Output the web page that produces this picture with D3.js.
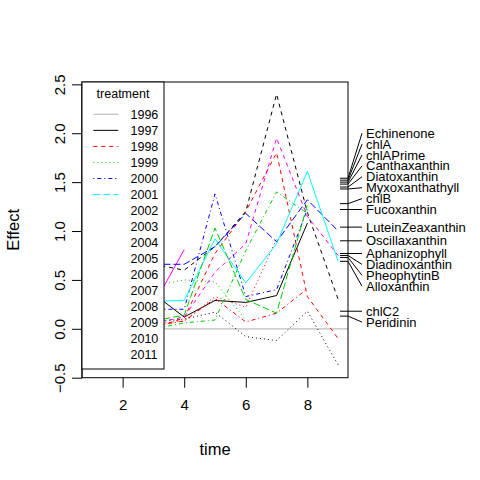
<!DOCTYPE html>
<html>
<head>
<meta charset="utf-8">
<script src="https://cdn.jsdelivr.net/npm/d3@7"></script>
<style>
  html, body { margin: 0; padding: 0; background: #fff; }
  svg { display: block; font-family: "Liberation Sans", Arial, Helvetica, sans-serif; }
</style>
</head>
<body>
<svg id="chart" width="480" height="480"></svg>
<script>
// ---- Data ----
const times = [1, 2, 3, 4, 5, 6, 7, 8, 9];
const treatments = ["1996","1997","1998","1999","2000","2001","2002","2003","2004","2005","2006","2007","2008","2009","2010","2011"];
// Effect per treatment (control 1996 is the zero line); null = not visible / absent
const y1997 = [null, null, 0.36, 0.12, 0.29, 0.27, 0.34, 1.08, null];
const y1998 = [null, null, 0.01, 0.11, 0.77, 1.20, 1.80, 0.33, -0.10];
const y1999 = [null, null, 0.44, 0.50, 0.48, 0.09, null, null, null];
const y2000 = [null, null, 0.20, 0.20, 1.38, 0.33, 0.40, 1.22, null];
const y2001 = [null, null, null, null, null, null, null, null, null];
const y2002 = [null, null, 0.24, 0.81, null, null, null, null, null];
const y2003 = [null, null, 0.66, 0.60, 0.84, 1.20, 2.40, 1.19, 0.30];
const y2004 = [null, null, 0.05, 0.08, 0.33, 0.22, 0.92, null, null];
const y2005 = [null, null, 0.00, 0.06, 0.09, 0.80, 1.40, 1.18, null];
const y2006 = [null, null, 0.66, 0.66, 0.84, 1.18, 0.89, 1.32, 1.00];
const y2007 = [null, null, 0.28, 0.29, 0.92, 0.47, 0.87, 1.61, 0.69];
const y2008 = [null, null, 0.06, 0.12, 0.58, 0.87, 1.95, 1.15, 0.75];
const y2009 = [null, null, 0.07, 0.10, 0.17, -0.08, -0.12, 0.18, -0.37];
const y2010 = [null, null, 0.03, 0.08, 0.31, 0.07, 0.16, 0.41, null];
const y2011 = [null, null, 0.08, 0.14, 1.03, 0.30, 0.16, 1.27, null];
const seriesValues = [y1997, y1998, y1999, y2000, y2001, y2002, y2003, y2004, y2005, y2006, y2007, y2008, y2009, y2010, y2011];

// Species scores (right-hand axis)
const speciesNames = ["Echinenone","chlA","chlAPrime","Canthaxanthin","Diatoxanthin","Myxoxanthathyll","chlB","Fucoxanthin","LuteinZeaxanthin","Oscillaxanthin","Aphanizophyll","Diadinoxanthin","PheophytinB","Alloxanthin","chlC2","Peridinin"];
const speciesScores = [1.54, 1.52, 1.50, 1.48, 1.45, 1.43, 1.28, 1.22, 1.04, 0.90, 0.77, 0.75, 0.73, 0.69, 0.18, 0.13];

const xTicks = [2, 4, 6, 8];
const yTicks = [-0.5, 0, 0.5, 1, 1.5, 2, 2.5];

// ---- Styles (R matplot defaults) ----
const palette = ["#000000", "#FF0000", "#00CD00", "#0000FF", "#00FFFF", "#FF00FF"];
const dashes = [null, "4,4", "1,3", "1,3,4,3", "7,3"];
const controlColor = "#BEBEBE";

// ---- Layout ----
const svg = d3.select("#chart");
const L = 82, R = 348, T = 82, B = 377.7;
const x = d3.scaleLinear().domain([0.68, 9.32]).range([L, R]);
const y = d3.scaleLinear().domain([-0.5, 2.524]).range([B, T]);

svg.append("defs").append("clipPath").attr("id", "clip")
  .append("rect").attr("x", L).attr("y", T).attr("width", R - L).attr("height", B - T);

const plot = svg.append("g").attr("clip-path", "url(#clip)");

// control line
plot.append("line")
  .attr("x1", L).attr("x2", R).attr("y1", y(0)).attr("y2", y(0))
  .attr("stroke", controlColor).attr("stroke-width", 1.2);

const line = d3.line()
  .defined(d => d.v !== null)
  .x(d => x(d.t))
  .y(d => y(d.v));

seriesValues.forEach((vals, i) => {
  const data = times.map((t, j) => ({ t: t, v: vals[j] }));
  const p = plot.append("path")
    .datum(data)
    .attr("d", line)
    .attr("fill", "none")
    .attr("stroke", palette[i % 6])
    .attr("stroke-width", 1);
  const da = dashes[i % 5];
  if (da) p.attr("stroke-dasharray", da);
});

// species rug ticks (inside plot)
plot.selectAll("line.rug").data(speciesScores).enter().append("line")
  .attr("class", "rug")
  .attr("x1", R - 8).attr("x2", R)
  .attr("y1", d => y(d)).attr("y2", d => y(d))
  .attr("stroke", "#000").attr("stroke-width", 1);

// Axes
const yAxis = svg.append("g").attr("transform", `translate(${L},0)`)
  .call(d3.axisLeft(y).tickValues(yTicks).tickSize(10).tickFormat(d3.format(".1f")));
yAxis.select(".domain").remove();
yAxis.selectAll(".tick line").attr("stroke", "#000");
yAxis.selectAll(".tick text")
  .attr("x", null).attr("dy", "0.36em")
  .attr("transform", "translate(-22,0) rotate(-90)")
  .attr("text-anchor", "middle")
  .attr("font-size", 15).attr("fill", "#000")
  .attr("font-family", "'Liberation Sans', Arial, sans-serif");
svg.append("line").attr("x1", L).attr("x2", L).attr("y1", y(-0.5)).attr("y2", y(2.5)).attr("stroke", "#000");

const xAxis = svg.append("g").attr("transform", `translate(0,${B})`)
  .call(d3.axisBottom(x).tickValues(xTicks).tickSize(10).tickFormat(d3.format("d")));
xAxis.select(".domain").remove();
xAxis.selectAll(".tick line").attr("stroke", "#000");
xAxis.selectAll(".tick text")
  .attr("y", 32).attr("dy", "0")
  .attr("font-size", 15).attr("fill", "#000")
  .attr("font-family", "'Liberation Sans', Arial, sans-serif");

// Box
svg.append("rect").attr("x", L).attr("y", T).attr("width", R - L).attr("height", B - T)
  .attr("fill", "none").attr("stroke", "#000").attr("stroke-width", 1);

// Axis titles
svg.append("text").text("time")
  .attr("x", (L + R) / 2).attr("y", 449).attr("dy", "0.35em")
  .attr("text-anchor", "middle").attr("font-size", 16.5);
svg.append("text").text("Effect")
  .attr("transform", `translate(13,${(T + B) / 2}) rotate(-90)`)
  .attr("dy", "0.35em").attr("text-anchor", "middle").attr("font-size", 16.5);

// Legend
const lg = svg.append("g");
lg.append("rect").attr("x", L).attr("y", T).attr("width", 164 - L).attr("height", 369 - T)
  .attr("fill", "#fff").attr("stroke", "#000").attr("stroke-width", 1);
lg.append("text").text("treatment").attr("x", 123).attr("y", 94).attr("dy", "0.35em")
  .attr("text-anchor", "middle").attr("font-size", 12.5);
treatments.forEach((name, k) => {
  const yy = 114.3 + 16.05 * k;
  if (k <= 5) {
    const ln = lg.append("line").attr("x1", 93.3).attr("x2", 118.3).attr("y1", yy).attr("y2", yy)
      .attr("stroke-width", 1);
    if (k === 0) {
      ln.attr("stroke", controlColor).attr("stroke-width", 1.2);
    } else {
      const i = k - 1;
      ln.attr("stroke", palette[i % 6]);
      const da = dashes[i % 5];
      if (da) ln.attr("stroke-dasharray", da);
    }
  }
  lg.append("text").text(name).attr("x", 130.5).attr("y", yy).attr("dy", "0.35em")
    .attr("font-size", 12.5);
});

// Species label stack (linestack-like spreading)
const ht = y.invert(0) - y.invert(10.9);   // minimum label spacing in data units
const order = d3.range(speciesScores.length).sort((a, b) => speciesScores[a] - speciesScores[b]);
const sorted = order.map(i => speciesScores[i]);
const n = sorted.length, nm = Math.floor(n / 2) - 1;
const pos = new Array(n);
pos[nm] = sorted[nm];
for (let i = nm + 1; i < n; i++) pos[i] = Math.max(sorted[i], pos[i - 1] + ht);
for (let i = nm - 1; i >= 0; i--) pos[i] = Math.min(sorted[i], pos[i + 1] - ht);

const sg = svg.append("g");
order.forEach((idx, k) => {
  sg.append("line")
    .attr("x1", R).attr("y1", y(sorted[k]))
    .attr("x2", 362).attr("y2", y(pos[k]))
    .attr("stroke", "#000").attr("stroke-width", 1);
  sg.append("text").text(speciesNames[idx])
    .attr("x", 366).attr("y", y(pos[k])).attr("dy", "0.35em")
    .attr("font-size", 13);
});
</script>
</body>
</html>
